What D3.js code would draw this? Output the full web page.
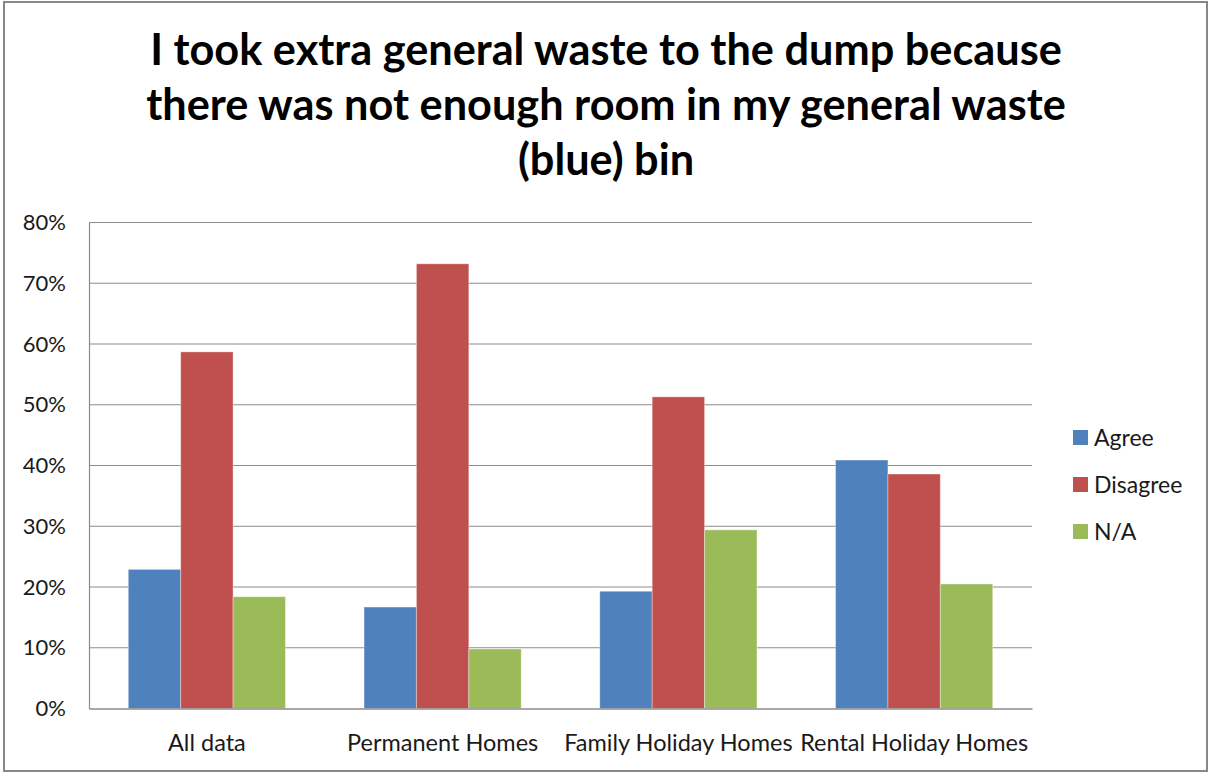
<!DOCTYPE html>
<html>
<head>
<meta charset="utf-8">
<script src="https://cdn.jsdelivr.net/npm/d3@7"></script>
<style>
  html, body { margin: 0; padding: 0; background: #fff; }
  svg { display: block; }
  text { font-family: Lato, "Open Sans", "DejaVu Sans", sans-serif; }
</style>
</head>
<body>
<svg id="chart" width="1212" height="774"></svg>
<script>
const titleLines = [
  "I took extra general waste to the dump because",
  "there was not enough room in my general waste",
  "(blue) bin"
];
const categories = ["All data", "Permanent Homes", "Family Holiday Homes", "Rental Holiday Homes"];
const seriesNames = ["Agree", "Disagree", "N/A"];
const agree    = [0.229, 0.167, 0.193, 0.409];
const disagree = [0.587, 0.732, 0.513, 0.386];
const na       = [0.184, 0.098, 0.294, 0.205];
const yTicks = [0, 0.1, 0.2, 0.3, 0.4, 0.5, 0.6, 0.7, 0.8];
const colors = ["#4F81BD", "#C0504D", "#9BBB59"];

const seriesValues = [agree, disagree, na];

const svg = d3.select("#chart");

// outer frame
svg.append("rect").attr("x", 4).attr("y", 2).attr("width", 1203).attr("height", 769)
  .attr("fill", "#fff").attr("stroke", "#878787").attr("stroke-width", 2);

const plot = { left: 89, right: 1032, top: 222.5, bottom: 708.5 };

const x0 = d3.scaleBand().domain(categories).range([plot.left, plot.right]).paddingInner(0).paddingOuter(0);
const x1 = d3.scaleBand().domain(seriesNames).range([0, x0.bandwidth()]).paddingInner(0).paddingOuter(0.75);
const y = d3.scaleLinear().domain([0, 0.8]).range([plot.bottom, plot.top]);
const color = d3.scaleOrdinal().domain(seriesNames).range(colors);

// gridlines
svg.append("g").selectAll("line").data(yTicks.filter(d => d > 0)).join("line")
  .attr("x1", plot.left).attr("x2", plot.right)
  .attr("y1", d => y(d)).attr("y2", d => y(d))
  .attr("stroke", "#8c8c8c").attr("stroke-width", 1.2);

// y axis
const yAxis = d3.axisLeft(y).tickValues(yTicks).tickFormat(d3.format(".0%")).tickSize(0).tickPadding(23);
const gy = svg.append("g").attr("transform", `translate(${plot.left},0)`).call(yAxis);
gy.select(".domain").attr("stroke", "#8c8c8c").attr("stroke-width", 1.2);
gy.selectAll("text").attr("font-size", 22).attr("fill", "#1a1a1a");

// bars
const rows = categories.map((c, i) => ({ cat: c, vals: seriesNames.map((s, j) => ({ s, v: seriesValues[j][i] })) }));
const groups = svg.append("g").selectAll("g").data(rows).join("g")
  .attr("transform", d => `translate(${x0(d.cat)},0)`);
groups.selectAll("rect").data(d => d.vals).join("rect")
  .attr("x", d => x1(d.s)).attr("width", x1.bandwidth())
  .attr("y", d => y(d.v)).attr("height", d => y(0) - y(d.v))
  .attr("fill", d => color(d.s))
  .attr("stroke", "rgba(255,255,255,0.35)").attr("stroke-width", 1);

// x axis
const xAxis = d3.axisBottom(x0).tickSize(0).tickPadding(26);
const gx = svg.append("g").attr("transform", `translate(0,${plot.bottom})`).call(xAxis);
gx.select(".domain").attr("stroke", "#8c8c8c").attr("stroke-width", 1.5);
gx.selectAll("text").attr("font-size", 23.5).attr("fill", "#1a1a1a");

// title
const title = svg.append("g");
title.selectAll("text").data(titleLines).join("text")
  .attr("x", 606).attr("y", (d, i) => 65 + i * 55)
  .attr("text-anchor", "middle")
  .attr("font-weight", "bold").attr("font-size", 42)
  .attr("fill", "#000")
  .text(d => d);
// fit width of first line to ~912px
const w0 = title.select("text").node().getComputedTextLength();
const fs = 42 * 912 / w0;
title.selectAll("text").attr("font-size", fs);

// legend
const legend = svg.append("g").selectAll("g").data(seriesNames).join("g")
  .attr("transform", (d, i) => `translate(1073,${430 + i * 47})`);
legend.append("rect").attr("width", 15).attr("height", 15).attr("fill", d => color(d));
legend.append("text").attr("x", 21).attr("y", 15.5).attr("font-size", 23).attr("fill", "#1a1a1a").text(d => d);
</script>
</body>
</html>
